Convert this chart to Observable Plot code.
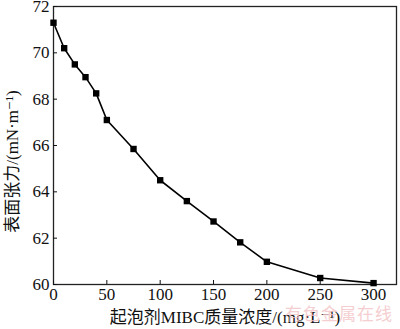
<!DOCTYPE html>
<html>
<head>
<meta charset="utf-8">
<script src="https://cdn.jsdelivr.net/npm/d3@7"></script>
<script src="https://cdn.jsdelivr.net/npm/@observablehq/plot@0.6"></script>
<style>
  html, body { margin: 0; padding: 0; background: #fff; }
  #chart { position: relative; width: 400px; height: 329px; }
  #chart svg, #chart svg text { font-family: "Liberation Serif", "DejaVu Serif", "Noto Sans CJK SC", serif !important; }
  #wm { position: absolute; left: 285px; top: 304px; font: 17px/17px "Noto Sans CJK SC"; color: #f3c3c6; letter-spacing: 1px; opacity: 0.8; }
</style>
</head>
<body>
<div id="chart"><div id="wm">有色金属在线</div></div>
<script>
const concentration = [0, 10, 20, 30, 40, 50, 75, 100, 125, 150, 175, 200, 250, 300];
const tension = [71.3, 70.2, 69.5, 68.95, 68.25, 67.1, 65.85, 64.5, 63.6, 62.72, 61.82, 60.98, 60.28, 60.06];
const xTicks = [0, 50, 100, 150, 200, 250, 300];
const yTicks = [60, 62, 64, 66, 68, 70, 72];
const xLabel = "起泡剂MIBC质量浓度/(mg·L⁻¹)";
const yLabel = "表面张力/(mN·m⁻¹)";

const data = concentration.map((c, i) => ({c, t: tension[i]}));

const chart = Plot.plot({
  width: 400,
  height: 329,
  marginLeft: 53,
  marginRight: 4,
  marginTop: 6,
  marginBottom: 45,
  style: {fontSize: "17px", color: "#111", background: "transparent", overflow: "visible"},
  x: {domain: [0, 321.5]},
  y: {domain: [60, 72]},
  marks: [
    Plot.frame({stroke: "#222", strokeWidth: 1.3}),
    Plot.axisX(xTicks, {tickSize: 0, tickPadding: 3, fontSize: 17, label: null}),
    Plot.axisX(xTicks, {tickSize: 4, dy: -4, tickFormat: () => "", label: null}),
    Plot.axisY(yTicks, {tickSize: 0, tickPadding: 4, fontSize: 17, label: null}),
    Plot.axisY(yTicks, {tickSize: 4, dx: 4, tickFormat: () => "", label: null}),
    Plot.text([xLabel], {frameAnchor: "bottom", dy: 38, fontSize: 17, fill: "#111"}),
    Plot.text([yLabel], {frameAnchor: "left", textAnchor: "middle", rotate: -90, dx: -41, dy: 16, fontSize: 17, fill: "#111"}),
    Plot.line(data, {x: "c", y: "t", stroke: "#000", strokeWidth: 1.6}),
    Plot.dot(data, {x: "c", y: "t", symbol: "square", r: 3.6, fill: "#000", stroke: "none"})
  ]
});
document.getElementById("chart").prepend(chart);
</script>
</body>
</html>
